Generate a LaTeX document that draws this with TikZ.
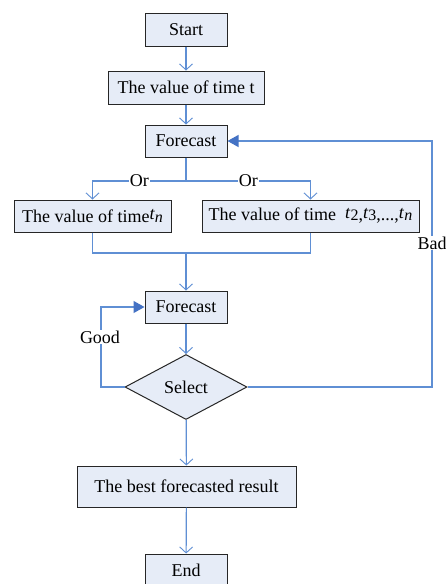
\documentclass[tikz,border=0pt]{standalone}
\usepackage{fontspec}
\setmainfont{Liberation Serif}
\usetikzlibrary{shapes.geometric,arrows.meta}
\definecolor{boxfill}{RGB}{230,236,247}
\definecolor{linkblue}{RGB}{95,143,212}
\definecolor{tipblue}{RGB}{68,114,196}
\newcommand{\ti}{\raisebox{2.5pt}{\textit{t}}}
\newcommand{\sub}[1]{{\fontsize{16}{18}\selectfont #1}}
\tikzset{
  box/.style={draw=black!85, line width=1pt, fill=boxfill, inner sep=0pt,
              font=\fontsize{18}{21}\selectfont},
  decision/.style={diamond, draw=black!85, line width=1pt, fill=boxfill, inner sep=0pt,
              minimum width=122pt, minimum height=65pt, font=\fontsize{18}{21}\selectfont},
  conn/.style={draw=linkblue, line width=1.2pt,
               -{Straight Barb[length=6pt,width=13pt,line width=0.9pt]}},
  plain/.style={draw=linkblue, line width=1.2pt},
  back/.style={draw=linkblue, line width=1.2pt,
               -{Triangle[length=11pt,width=12pt,fill=tipblue,color=tipblue]}},
  lbl/.style={fill=white, inner sep=1pt, font=\fontsize{18}{21}\selectfont}
}
\begin{document}
\begin{tikzpicture}[x=1pt,y=-1pt]
\clip (0,0) rectangle (446,584);
\fill[white] (0,0) rectangle (446,584);

% process boxes
\node[box, minimum width=82pt, minimum height=33pt]  (start) at (186,29.5) {Start};
\node[box, minimum width=156pt, minimum height=33pt] (valt)  at (186,87.5) {The value of time t};
\node[box, minimum width=82pt, minimum height=32pt]  (fc1)   at (186,141) {Forecast};
\node[box, minimum width=157pt, minimum height=32pt] (left)  at (92.5,216)
     {The value of time\ti\sub{\textit{n}}};
\node[box, minimum width=217pt, minimum height=32pt] (right) at (310.5,216)
     {The value of time\ \ \ti\sub{2},\ti\sub{3},...,\ti\sub{\textit{n}}};
\node[box, minimum width=82pt, minimum height=32pt]  (fc2)   at (186,307) {Forecast};
\node[decision] (sel) at (186,387) {Select};
\node[box, minimum width=219pt, minimum height=41pt] (best)  at (186.5,486.5) {The best forecasted result};
\node[box, minimum width=82pt, minimum height=33pt]  (end)   at (186,570.5) {End};

% junction points
\coordinate (split) at (186,181);
\coordinate (merge) at (186,253);
\coordinate (goodx) at (101,307);
\coordinate (badx)  at (432,141);

% main flow
\draw[conn] (start) -- (valt);
\draw[conn] (valt) -- (fc1);
\draw[plain] (fc1) -- (split);
\draw[conn] (split) -| node[lbl, pos=0.25] {Or} (left.north);
\draw[conn] (split) -| node[lbl, pos=0.25] {Or} (right.north);
\draw[plain] (left.south) |- (merge);
\draw[plain] (right.south) |- (merge);
\draw[conn] (merge) -- (fc2);
\draw[conn] (fc2) -- (sel);
\draw[conn] (sel) -- (best);
\draw[conn] (best) -- (end);

% feedback loops
\draw[back] (sel.west) -| (goodx) -- (fc2.west);
\node[lbl] (good) at (100,337) {Good};
\draw[back] (sel.east) -| (badx) -- (fc1.east);
\node[lbl] (bad) at (432,243) {Bad};
\end{tikzpicture}
\end{document}
